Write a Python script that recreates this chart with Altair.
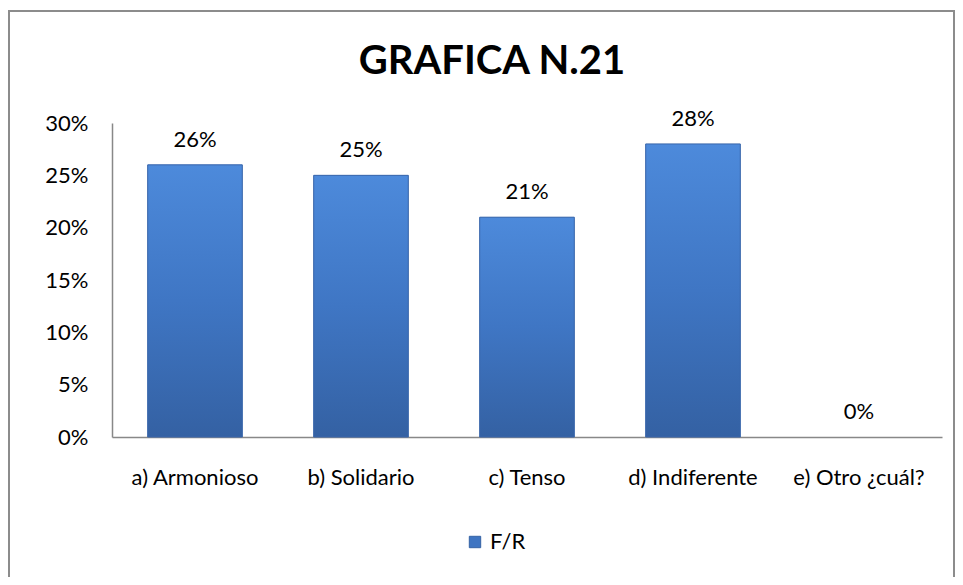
import altair as alt
import pandas as pd

categorias = ["a) Armonioso", "b) Solidario", "c) Tenso", "d) Indiferente", "e) Otro ¿cuál?"]
valores = [0.26, 0.25, 0.21, 0.28, 0.0]
serie = ["F/R"] * 5
etiquetas = ["26%", "25%", "21%", "28%", "0%"]
ticks_y = [0, 0.05, 0.10, 0.15, 0.20, 0.25, 0.30]

df = pd.DataFrame({"cat": categorias, "val": valores, "serie": serie, "lab": etiquetas})

FONT = "Lato"

x_enc = alt.X("cat:N", sort=categorias, title=None,
              scale=alt.Scale(paddingInner=0.43, paddingOuter=0.215),
              axis=alt.Axis(labelAngle=0, labelFontSize=22, labelFont=FONT, labelColor="black",
                            labelPadding=30, ticks=False, domainColor="#888888", domainWidth=1.5))
y_enc = alt.Y("val:Q", title=None,
              scale=alt.Scale(domain=[0, 0.30]),
              axis=alt.Axis(values=ticks_y, format=".0%", labelFontSize=22, labelFont=FONT,
                            labelColor="black", labelPadding=24, ticks=False, grid=False,
                            domainColor="#888888", domainWidth=1.5))

base = alt.Chart(df)

bars_legend = base.mark_bar().encode(
    x=x_enc, y=y_enc,
    color=alt.Color("serie:N", title=None,
                    scale=alt.Scale(range=["#3F75C2"]),
                    legend=alt.Legend(orient="none", legendX=352, legendY=408,
                                      symbolType="square", symbolSize=130,
                                      labelFontSize=22, labelFont=FONT, labelColor="black",
                                      symbolStrokeColor="#3462A4", symbolStrokeWidth=1)),
)

bars_grad = base.mark_bar(
    color=alt.Gradient(gradient="linear", x1=0, x2=0, y1=0, y2=1,
                       stops=[alt.GradientStop(color="#4D8ADB", offset=0),
                              alt.GradientStop(color="#3F76C4", offset=0.5),
                              alt.GradientStop(color="#3461A3", offset=1)]),
    stroke="#3A67AB", strokeWidth=1,
).encode(
    x=x_enc, y=y_enc,
    strokeOpacity=alt.condition("datum.val > 0", alt.value(1), alt.value(0)),
)

text = base.mark_text(baseline="bottom", dy=-13, fontSize=22, font=FONT, color="black").encode(
    x=alt.X("cat:N", sort=categorias), y="val:Q", text="lab:N")

frame = alt.Chart(pd.DataFrame({"k": [0]})).mark_rect(
    fill=None, stroke="#8c8c8c", strokeWidth=2, clip=False
).encode(x=alt.value(-103), x2=alt.value(842), y=alt.value(-112), y2=alt.value(540))

chart = alt.layer(frame, bars_legend, bars_grad, text).properties(
    width=830, height=314,
    autosize=alt.AutoSizeParams(type="none"),
    padding={"left": 104, "top": 115, "right": 13, "bottom": 140},
    title=alt.Title("GRAFICA N.21", fontSize=40, font=FONT, fontWeight="bold", color="black",
                    anchor="middle", dx=-35, offset=-72),
).configure_view(stroke=None)

chart.save("out.html", embed_options={"renderer": "svg", "actions": False})
